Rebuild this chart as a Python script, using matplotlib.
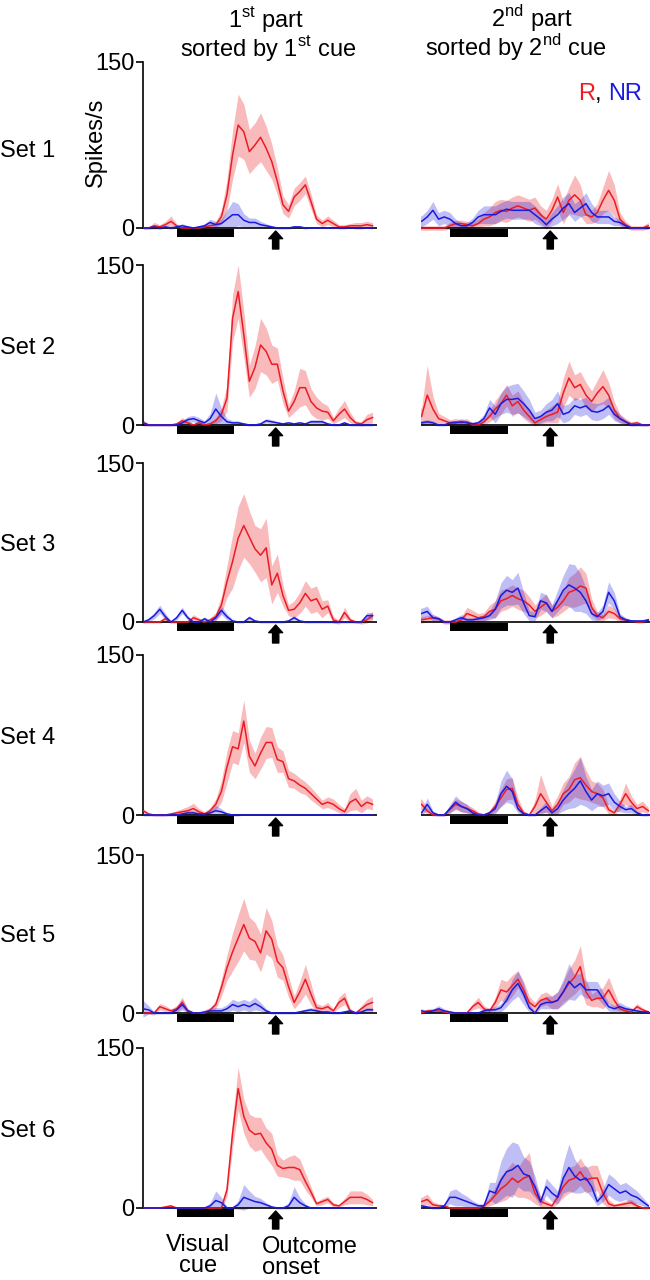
import matplotlib.pyplot as plt
from matplotlib.patches import Rectangle

plt.rcParams["font.family"] = ["Liberation Sans", "DejaVu Sans"]
plt.rcParams["mathtext.fontset"] = "custom"
plt.rcParams["mathtext.rm"] = "Liberation Sans"

W, H = 650, 1280
FS = 17

# bin centres, s from visual cue onset
TIME_S = [-0.6, -0.5, -0.4, -0.3, -0.2, -0.1, 0.0, 0.1, 0.2, 0.3, 0.4,
          0.5, 0.6, 0.7, 0.8, 0.9, 1.0, 1.1, 1.2, 1.3, 1.4,
          1.5, 1.6, 1.7, 1.8, 1.9, 2.0, 2.1, 2.2, 2.3, 2.4,
          2.5, 2.6, 2.7, 2.8, 2.9, 3.0, 3.1, 3.2, 3.3, 3.4, 3.5]
CUE_ON, CUE_OFF = 0.0, 1.02
OUTCOME_T = 1.77
SET_LABELS = ["Set 1", "Set 2", "Set 3", "Set 4", "Set 5", "Set 6"]

# spikes/s, p1 = 1st part sorted by 1st cue, p2 = 2nd part sorted by 2nd cue
s1_p1_r = [0, 0, 2, 1, 3, 6, 2, 0, 0, 0, 0, 1, 2, 3, 10, 30, 66, 93, 87, 69, 75,
           82, 72, 60, 42, 21, 15, 28, 33, 39, 24, 8, 4, 7, 4, 1, 1, 2, 2, 2, 3, 2]
s1_p1_r_sem = [1, 1, 3, 2, 3, 5, 2, 1, 1, 1, 1, 1, 2, 3, 6, 14, 22, 28, 25, 20, 20,
               22, 20, 16, 12, 8, 6, 8, 8, 8, 7, 4, 3, 4, 3, 2, 2, 2, 3, 3, 3, 3]
s1_p1_nr = [0, 0, 1, 0, 1, 0, 1, 2, 1, 0, 1, 2, 5, 3, 4, 8, 12, 12, 7, 5, 5,
            3, 2, 1, 0, 0, 0, 1, 1, 0, 0, 0, 0, 0, 0, 0, 0, 0, 0, 0, 0, 0]
s1_p1_nr_sem = [1, 1, 1, 1, 1, 1, 1, 2, 1, 1, 1, 2, 3, 3, 4, 8, 12, 10, 6, 4, 4,
                3, 2, 1, 1, 1, 1, 1, 1, 1, 0, 0, 0, 0, 0, 0, 0, 0, 0, 0, 0, 0]
s1_p2_r = [0, 0, 0, 0, 0, 0, 2, 4, 4, 3, 2, 4, 8, 10, 14, 16, 15, 18, 20, 18, 16,
           18, 12, 8, 16, 28, 14, 25, 30, 25, 12, 10, 14, 25, 34, 25, 8, 3, 0, 0, 0, 2]
s1_p2_r_sem = [2, 2, 2, 2, 2, 2, 3, 3, 3, 3, 3, 4, 6, 8, 10, 10, 10, 10, 10, 10, 10,
               10, 8, 8, 10, 12, 10, 12, 18, 14, 8, 6, 8, 12, 18, 14, 6, 3, 2, 2, 2, 3]
s1_p2_nr = [6, 6, 10, 16, 8, 10, 8, 4, 2, 2, 5, 10, 12, 12, 12, 15, 17, 16, 16, 16, 16,
            12, 8, 3, 8, 12, 18, 22, 14, 18, 22, 14, 10, 10, 10, 6, 5, 2, 0, 0, 0, 0]
s1_p2_nr_sem = [5, 5, 6, 8, 6, 6, 6, 4, 3, 3, 4, 6, 8, 8, 8, 8, 8, 8, 8, 8, 8,
                8, 6, 4, 6, 8, 10, 10, 8, 8, 10, 8, 6, 6, 6, 4, 3, 2, 1, 1, 1, 1]

s2_p1_r = [2, 0, 0, 0, 0, 0, 1, 4, 2, 0, 2, 0, 1, 4, 10, 25, 100, 125, 85, 41, 54,
           75, 69, 57, 57, 32, 13, 22, 35, 35, 22, 16, 13, 12, 4, 10, 15, 7, 2, 1, 5, 7]
s2_p1_r_sem = [3, 1, 1, 1, 1, 1, 1, 3, 2, 1, 3, 1, 2, 3, 6, 12, 22, 25, 22, 15, 20,
               25, 22, 18, 15, 12, 6, 10, 18, 16, 12, 10, 8, 6, 3, 6, 8, 5, 2, 2, 5, 5]
s2_p1_nr = [2, 0, 0, 0, 0, 0, 0, 2, 5, 6, 4, 2, 6, 15, 8, 3, 2, 2, 1, 0, 0,
            1, 4, 3, 2, 1, 2, 1, 2, 1, 3, 3, 3, 1, 0, 0, 2, 0, 0, 0, 0, 0]
s2_p1_nr_sem = [2, 1, 1, 1, 1, 1, 1, 2, 3, 3, 3, 2, 5, 15, 8, 3, 2, 2, 1, 1, 1,
                1, 2, 2, 1, 1, 1, 1, 1, 1, 2, 2, 2, 1, 1, 1, 1, 1, 1, 1, 1, 1]
s2_p2_r = [8, 8, 28, 15, 6, 4, 2, 3, 2, 3, 0, 0, 3, 8, 15, 20, 28, 18, 22, 14, 8,
           2, 5, 8, 10, 12, 30, 44, 35, 38, 28, 22, 30, 36, 28, 14, 6, 3, 1, 2, 0, 0]
s2_p2_r_sem = [8, 8, 28, 12, 5, 4, 3, 3, 3, 3, 2, 2, 3, 5, 8, 10, 10, 10, 10, 8, 6,
               3, 4, 6, 8, 10, 14, 16, 12, 12, 12, 10, 12, 16, 12, 8, 4, 3, 2, 2, 1, 1]
s2_p2_nr = [2, 2, 3, 2, 0, 0, 2, 2, 3, 2, 1, 2, 6, 16, 10, 20, 24, 24, 25, 20, 14,
            6, 8, 12, 14, 20, 10, 12, 18, 16, 18, 13, 12, 14, 18, 10, 6, 3, 0, 0, 0, 0]
s2_p2_nr_sem = [2, 2, 2, 2, 1, 1, 2, 2, 3, 2, 2, 2, 4, 8, 8, 10, 12, 14, 14, 12, 10,
                6, 6, 8, 10, 12, 8, 8, 8, 8, 8, 8, 8, 8, 8, 6, 4, 2, 1, 1, 1, 1]

s3_p1_r = [0, 0, 0, 0, 3, 0, 0, 0, 0, 4, 2, 0, 2, 5, 16, 38, 57, 79, 91, 80, 69,
           63, 70, 35, 46, 25, 11, 12, 18, 27, 20, 22, 12, 15, 2, 0, 9, 2, 0, 0, 2, 6]
s3_p1_r_sem = [1, 1, 1, 1, 3, 1, 1, 1, 1, 3, 2, 1, 2, 4, 8, 15, 25, 30, 30, 25, 22,
               25, 28, 18, 18, 10, 5, 8, 10, 12, 12, 12, 8, 6, 3, 2, 5, 2, 1, 2, 3, 4]
s3_p1_nr = [0, 2, 6, 12, 5, 0, 4, 11, 4, 0, 0, 3, 0, 4, 11, 5, 1, 0, 0, 4, 1,
            0, 0, 0, 0, 0, 1, 4, 1, 0, 0, 0, 0, 0, 0, 0, 0, 0, 0, 0, 6, 6]
s3_p1_nr_sem = [1, 2, 3, 4, 3, 1, 2, 3, 2, 1, 1, 2, 1, 2, 4, 3, 1, 1, 1, 2, 1,
                1, 1, 1, 1, 1, 1, 2, 1, 1, 1, 1, 1, 1, 1, 1, 1, 1, 1, 1, 3, 3]
s3_p2_r = [2, 2, 3, 4, 3, 0, 0, 0, 2, 8, 6, 4, 5, 10, 12, 20, 22, 25, 22, 20, 16,
           10, 14, 18, 10, 14, 20, 28, 30, 34, 32, 14, 6, 4, 10, 8, 3, 2, 1, 0, 0, 2]
s3_p2_r_sem = [3, 3, 3, 3, 2, 2, 2, 2, 3, 6, 5, 4, 4, 6, 8, 10, 10, 10, 10, 10, 8,
               6, 8, 8, 6, 8, 10, 14, 16, 18, 14, 8, 4, 3, 6, 5, 3, 2, 1, 1, 1, 2]
s3_p2_nr = [8, 8, 10, 4, 3, 0, 0, 2, 4, 2, 2, 3, 4, 6, 12, 25, 30, 28, 32, 18, 6,
            5, 20, 18, 10, 20, 30, 35, 32, 28, 20, 8, 5, 10, 28, 20, 5, 2, 1, 1, 1, 2]
s3_p2_nr_sem = [5, 5, 5, 3, 2, 1, 1, 2, 3, 2, 2, 2, 3, 4, 8, 12, 14, 12, 15, 10, 5,
                4, 8, 8, 6, 10, 14, 20, 22, 18, 12, 6, 4, 6, 10, 8, 3, 2, 1, 1, 1, 1]

s4_p1_r = [4, 1, 0, 0, 0, 1, 2, 3, 4, 6, 3, 1, 4, 10, 22, 45, 64, 62, 88, 55, 46,
           58, 68, 68, 52, 50, 34, 32, 28, 25, 20, 15, 10, 12, 10, 6, 3, 12, 15, 8, 12, 10]
s4_p1_r_sem = [2, 1, 1, 1, 1, 1, 2, 3, 4, 5, 3, 2, 3, 5, 10, 15, 15, 15, 20, 15, 12,
               15, 15, 14, 12, 10, 8, 7, 7, 6, 6, 5, 4, 5, 5, 4, 3, 8, 10, 6, 6, 5]
s4_p1_nr = [0, 0, 0, 0, 0, 0, 0, 1, 2, 2, 1, 1, 2, 4, 3, 1, 0, 0, 0, 0, 0,
            0, 0, 0, 0, 0, 0, 0, 0, 0, 0, 0, 0, 0, 0, 0, 0, 0, 0, 0, 0, 0]
s4_p1_nr_sem = [1, 1, 1, 1, 1, 1, 1, 1, 2, 2, 1, 1, 2, 5, 3, 1, 1, 1, 0, 0, 0,
                0, 0, 0, 0, 0, 0, 0, 0, 0, 0, 0, 0, 0, 0, 0, 0, 0, 0, 0, 0, 0]
s4_p2_r = [10, 10, 4, 0, 0, 0, 5, 10, 8, 6, 4, 1, 0, 2, 8, 16, 24, 25, 10, 2, 0,
           8, 20, 12, 4, 10, 20, 24, 33, 35, 28, 22, 20, 16, 5, 2, 10, 20, 12, 6, 8, 4]
s4_p2_r_sem = [5, 5, 3, 1, 1, 1, 3, 5, 5, 4, 3, 2, 1, 2, 5, 8, 10, 10, 6, 2, 1,
               6, 18, 10, 4, 8, 10, 12, 16, 20, 14, 10, 10, 8, 4, 2, 5, 10, 6, 4, 5, 3]
s4_p2_nr = [2, 2, 10, 2, 0, 0, 6, 12, 8, 6, 2, 0, 0, 2, 6, 20, 27, 22, 6, 1, 0,
            0, 4, 8, 2, 6, 14, 20, 25, 32, 22, 14, 20, 18, 20, 12, 8, 5, 6, 2, 0, 0]
s4_p2_nr_sem = [2, 2, 6, 2, 1, 1, 4, 6, 5, 4, 2, 1, 1, 2, 5, 12, 15, 12, 4, 1, 1,
                1, 3, 5, 2, 5, 10, 14, 18, 22, 14, 10, 12, 10, 10, 8, 5, 3, 4, 2, 1, 1]

s5_p1_r = [0, 0, 0, 6, 4, 2, 4, 10, 2, 0, 0, 0, 3, 8, 24, 43, 58, 71, 84, 71, 68,
           57, 78, 70, 49, 43, 25, 10, 20, 32, 18, 5, 4, 6, 2, 10, 14, 2, 0, 4, 8, 10]
s5_p1_r_sem = [1, 1, 2, 3, 3, 2, 3, 5, 2, 1, 1, 1, 2, 4, 8, 12, 18, 22, 25, 20, 18,
               18, 22, 18, 15, 12, 10, 6, 10, 14, 10, 4, 3, 4, 2, 5, 6, 2, 1, 3, 5, 6]
s5_p1_nr = [4, 3, 0, 0, 0, 0, 3, 8, 2, 0, 0, 1, 2, 2, 2, 4, 8, 6, 8, 6, 9,
            6, 2, 0, 0, 0, 0, 0, 1, 2, 3, 2, 1, 1, 0, 0, 1, 2, 0, 1, 3, 3]
s5_p1_nr_sem = [8, 4, 1, 1, 1, 1, 3, 5, 2, 1, 1, 2, 3, 3, 3, 4, 5, 5, 5, 5, 6,
                4, 2, 1, 1, 1, 1, 1, 1, 2, 2, 2, 1, 1, 1, 1, 1, 2, 1, 1, 2, 2]
s5_p2_r = [0, 0, 2, 2, 2, 1, 0, 0, 0, 0, 6, 10, 4, 2, 10, 22, 20, 26, 32, 22, 10,
           6, 12, 14, 10, 12, 20, 28, 34, 44, 20, 12, 14, 14, 22, 12, 4, 2, 1, 6, 3, 1]
s5_p2_r_sem = [1, 1, 2, 2, 2, 1, 1, 1, 1, 1, 3, 5, 3, 2, 5, 10, 10, 10, 8, 8, 6,
               4, 6, 6, 6, 8, 10, 14, 16, 20, 12, 6, 8, 10, 12, 8, 3, 2, 1, 3, 2, 1]
s5_p2_nr = [2, 2, 1, 2, 4, 2, 1, 0, 0, 0, 0, 0, 2, 3, 3, 5, 12, 22, 28, 18, 5,
            0, 8, 10, 10, 12, 20, 30, 24, 28, 22, 22, 22, 14, 6, 4, 6, 4, 3, 2, 1, 1]
s5_p2_nr_sem = [2, 2, 1, 2, 3, 2, 1, 1, 1, 1, 1, 1, 2, 2, 3, 4, 6, 10, 12, 10, 4,
                1, 4, 6, 6, 8, 12, 17, 12, 10, 8, 8, 8, 6, 4, 3, 4, 3, 2, 1, 1, 1]

s6_p1_r = [0, 0, 0, 0, 1, 2, 0, 0, 0, 0, 0, 0, 0, 0, 0, 17, 70, 112, 86, 73, 69,
           70, 61, 55, 40, 37, 38, 38, 36, 25, 15, 4, 6, 8, 3, 2, 6, 10, 10, 10, 8, 5]
s6_p1_r_sem = [0, 0, 0, 0, 1, 1, 0, 0, 0, 0, 0, 0, 0, 0, 1, 6, 14, 20, 16, 15, 16,
               15, 14, 15, 10, 8, 10, 12, 10, 8, 5, 2, 3, 3, 2, 1, 3, 6, 6, 6, 5, 3]
s6_p1_nr = [0, 0, 0, 0, 0, 0, 0, 0, 0, 0, 0, 0, 2, 7, 5, 0, 0, 3, 10, 8, 6,
            5, 3, 1, 0, 0, 2, 10, 5, 2, 0, 0, 0, 0, 0, 0, 0, 0, 0, 0, 0, 0]
s6_p1_nr_sem = [0, 0, 0, 0, 0, 0, 1, 1, 1, 1, 1, 1, 3, 9, 5, 1, 1, 4, 12, 8, 5,
                4, 2, 1, 1, 1, 3, 10, 5, 2, 0, 0, 0, 0, 0, 0, 0, 0, 0, 0, 0, 0]
s6_p2_r = [6, 6, 8, 3, 2, 2, 0, 0, 0, 0, 0, 0, 2, 6, 12, 18, 22, 28, 24, 28, 30,
           14, 6, 4, 2, 10, 20, 26, 28, 34, 26, 28, 28, 14, 4, 2, 3, 4, 5, 2, 0, 0]
s6_p2_r_sem = [4, 4, 5, 3, 2, 1, 1, 1, 1, 1, 1, 1, 2, 4, 8, 12, 14, 15, 14, 18, 22,
               10, 5, 3, 2, 6, 10, 12, 12, 13, 12, 12, 12, 10, 4, 2, 2, 3, 3, 2, 1, 1]
s6_p2_nr = [2, 2, 1, 0, 0, 2, 10, 10, 8, 6, 4, 2, 2, 16, 14, 26, 34, 36, 40, 32, 30,
            20, 6, 20, 14, 10, 28, 38, 30, 26, 28, 20, 6, 12, 22, 18, 14, 16, 12, 10, 6, 2]
s6_p2_nr_sem = [1, 1, 1, 1, 1, 2, 6, 8, 6, 5, 3, 2, 2, 8, 10, 18, 22, 26, 20, 16, 14,
                10, 4, 8, 8, 6, 14, 22, 16, 12, 12, 10, 4, 6, 10, 10, 8, 8, 8, 6, 4, 2]

SETS = [
    ((s1_p1_r, s1_p1_r_sem, s1_p1_nr, s1_p1_nr_sem), (s1_p2_r, s1_p2_r_sem, s1_p2_nr, s1_p2_nr_sem)),
    ((s2_p1_r, s2_p1_r_sem, s2_p1_nr, s2_p1_nr_sem), (s2_p2_r, s2_p2_r_sem, s2_p2_nr, s2_p2_nr_sem)),
    ((s3_p1_r, s3_p1_r_sem, s3_p1_nr, s3_p1_nr_sem), (s3_p2_r, s3_p2_r_sem, s3_p2_nr, s3_p2_nr_sem)),
    ((s4_p1_r, s4_p1_r_sem, s4_p1_nr, s4_p1_nr_sem), (s4_p2_r, s4_p2_r_sem, s4_p2_nr, s4_p2_nr_sem)),
    ((s5_p1_r, s5_p1_r_sem, s5_p1_nr, s5_p1_nr_sem), (s5_p2_r, s5_p2_r_sem, s5_p2_nr, s5_p2_nr_sem)),
    ((s6_p1_r, s6_p1_r_sem, s6_p1_nr, s6_p1_nr_sem), (s6_p2_r, s6_p2_r_sem, s6_p2_nr, s6_p2_nr_sem)),
]

RED = "#ec1c24"
BLUE = "#1a1ae0"

# pixel layout of each row: y of the 150 tick and of the zero line
ROW_TOP = [62, 265, 463, 655, 855, 1048]
ROW_ZERO = [228, 425, 622, 815, 1013, 1208]
PAD = 26  # px below zero for cue bar / arrow


def fx(px):
    return px / W


def fy(py):
    return 1 - py / H


def draw_panel(ax, data, xlim, u):
    r, r_sem, nr, nr_sem = data
    ax.fill_between(TIME_S, [m - s for m, s in zip(r, r_sem)], [m + s for m, s in zip(r, r_sem)],
                    color=RED, alpha=0.3, lw=0)
    ax.fill_between(TIME_S, [m - s for m, s in zip(nr, nr_sem)], [m + s for m, s in zip(nr, nr_sem)],
                    color=BLUE, alpha=0.28, lw=0)
    ax.axhline(0, color="k", lw=1.2, zorder=1)
    ax.plot(TIME_S, r, color=RED, lw=1.1, zorder=3)
    ax.plot(TIME_S, nr, color=BLUE, lw=1.1, zorder=4)
    ax.add_patch(Rectangle((CUE_ON, -8.5 * u), CUE_OFF - CUE_ON, 7.5 * u, color="k", lw=0))
    ax.annotate("", xy=(OUTCOME_T, -3 * u), xytext=(OUTCOME_T, -21 * u),
                arrowprops=dict(arrowstyle="simple,head_length=0.55,head_width=1.0,tail_width=0.45",
                                fc="k", ec="k", shrinkA=0, shrinkB=0))
    ax.set_xlim(*xlim)
    ax.set_ylim(-PAD * u, 150)
    ax.set_xticks([])
    for sp in ("top", "right", "bottom"):
        ax.spines[sp].set_visible(False)


fig = plt.figure(figsize=(W / 100, H / 100), dpi=100)

for i, (p1, p2) in enumerate(SETS):
    top, zero = ROW_TOP[i], ROW_ZERO[i]
    u = 150 / (zero - top)
    bottom = fy(zero + PAD)
    height = (zero + PAD - top) / H

    ax1 = fig.add_axes([fx(143), bottom, fx(234), height])
    draw_panel(ax1, p1, (-0.6, 3.58), u)
    ax1.spines["left"].set_bounds(0, 150)
    ax1.spines["left"].set_linewidth(1.2)
    ax1.set_yticks([0, 150])
    ax1.tick_params(axis="y", length=5, width=1.2, labelsize=FS, pad=1)

    ax2 = fig.add_axes([fx(421), bottom, fx(229), height])
    draw_panel(ax2, p2, (-0.51, 3.53), u)
    ax2.spines["left"].set_visible(False)
    ax2.set_yticks([])

    fig.text(0, fy(zero - 77), SET_LABELS[i], fontsize=FS, va="center", ha="left")

fig.text(fx(96), fy(142), "Spikes/s", fontsize=FS, rotation=90, ha="center", va="center")

fig.text(fx(266), fy(27), r"1$^{\mathrm{st}}$ part", fontsize=FS, ha="center", va="baseline")
fig.text(fx(268), fy(56), r"sorted by 1$^{\mathrm{st}}$ cue", fontsize=FS, ha="center", va="baseline")
fig.text(fx(532), fy(27), r"2$^{\mathrm{nd}}$ part", fontsize=FS, ha="center", va="baseline")
fig.text(fx(516), fy(56), r"sorted by 2$^{\mathrm{nd}}$ cue", fontsize=FS, ha="center", va="baseline")

# legend "R, NR" in colour
fig.canvas.draw()
renderer = fig.canvas.get_renderer()
x = fx(578)
for s, c in [("R", RED), (", ", "k"), ("NR", BLUE)]:
    t = fig.text(x, fy(100), s, color=c, fontsize=FS, ha="left", va="baseline")
    bb = t.get_window_extent(renderer)
    x += bb.width / W

fig.text(fx(198), fy(1251), "Visual", fontsize=FS, ha="center", va="baseline")
fig.text(fx(198), fy(1272), "cue", fontsize=FS, ha="center", va="baseline")
fig.text(fx(262), fy(1253), "Outcome", fontsize=FS, ha="left", va="baseline")
fig.text(fx(262), fy(1274), "onset", fontsize=FS, ha="left", va="baseline")

fig.savefig("out.png", dpi=100)
